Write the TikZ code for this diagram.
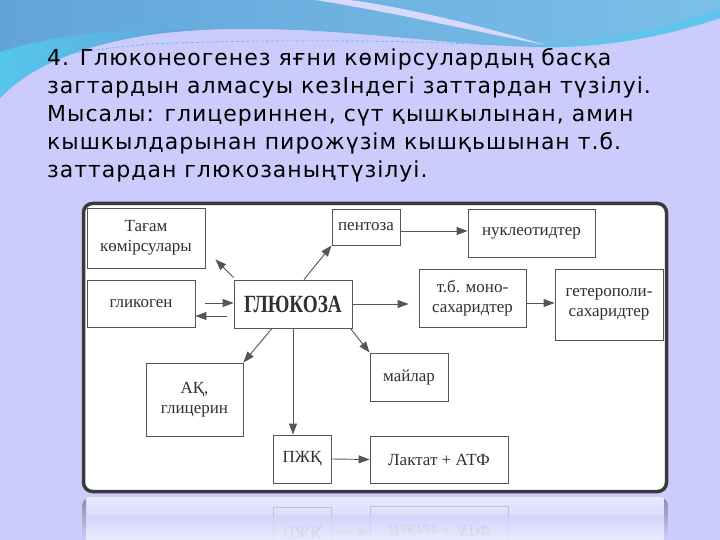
\documentclass[tikz,border=0pt]{standalone}
\usepackage{fontspec}
\setmainfont{Liberation Serif}
\newfontfamily\titlefont[LetterSpace=4.5]{DejaVu Sans}
\usetikzlibrary{arrows.meta,calc}
\definecolor{lav}{RGB}{204,204,252}
\definecolor{blueA}{RGB}{98,164,218}
\definecolor{blueB}{RGB}{122,192,232}
\definecolor{cyanA}{RGB}{86,198,236}
\definecolor{boxgray}{RGB}{85,85,85}
\definecolor{txtgray}{RGB}{48,48,48}
\definecolor{framegray}{RGB}{58,58,58}
\tikzset{
  box/.style={draw=boxgray, line width=0.9pt, fill=white, inner sep=0pt, align=center,
    font=\fontsize{17}{20.5}\selectfont, text=txtgray},
  arr/.style={draw=boxgray, line width=0.9pt, -{Triangle[length=11pt,width=8pt]}},
  titleline/.style={anchor=base west, inner sep=0pt, font=\titlefont\fontsize{22}{26}\selectfont, text=black},
  reflbox/.style={draw=boxgray!35, line width=0.8pt, minimum width=#1, minimum height=48pt, inner sep=0pt},
}
\begin{document}
\begin{tikzpicture}[x=1pt,y=-1pt]
\useasboundingbox (0,0) rectangle (720,540);
% background
\fill[lav] (0,0) rectangle (720,540);
% blue top wave
\shade[left color=blueA, right color=blueB]
  (0,0) -- (720,0) -- (720,18) .. controls (660,38) and (600,48) .. (540,47)
  .. controls (430,45) and (330,24) .. (200,30) .. controls (120,34) and (40,55) .. (0,98) -- cycle;
\shade[left color=cyanA, right color=blueA]
  (0,98) .. controls (40,55) and (120,34) .. (200,30) .. controls (120,26) and (40,38) .. (0,52) -- cycle;
\fill[cyanA!75!blueB]
  (540,47) .. controls (600,48) and (660,38) .. (720,18) -- (720,8) .. controls (660,30) and (600,42) .. (540,46) -- cycle;
% light swoosh
\fill[lav!75!white] (315,0) .. controls (380,10) and (460,28) .. (545,45) .. controls (470,22) and (390,5) .. (350,0) -- cycle;
\draw[cyanA!60!blueA, line width=0.6pt, dash pattern=on 3pt off 2pt]
  (0,75) .. controls (30,62) and (60,52) .. (150,44) .. controls (250,40) and (300,41) .. (360,41) .. controls (450,42) and (500,46) .. (560,47);
% title text
\node[titleline] (l1) at (47,65.5) {4. Глюконеогенез яғни көмірсулардың басқа};
\node[titleline] (l2) at (47,93.5) {загтардын алмасуы кезIндегі заттардан түзілуі.};
\node[titleline] (l3) at (47,121.5) {Мысалы: глицериннен, сүт қышкылынан, амин};
\node[titleline] (l4) at (47,149.5) {кышкылдарынан пирожүзім кышқьшынан т.б.};
\node[titleline] (l5) at (47,177.5) {заттардан глюкозаныңтүзілуі.};
% reflection
\begin{scope}
\clip[rounded corners=9pt] (82,497) rectangle (668,560);
\shade[top color=white!55!lav, bottom color=lav] (82,497) rectangle (668,540);
\node[reflbox=58pt] (rp) at (302,531) {};
\node[reflbox=138pt] (rl) at (439,530.5) {};
\node[text=txtgray!35, font=\fontsize{17}{20}\selectfont] (rpt) at (302,531) {\scalebox{1}[-1]{ПЖҚ}};
\node[text=txtgray!35, font=\fontsize{17}{20}\selectfont] (rlt) at (439,531) {\scalebox{1}[-1]{Лактат + АТФ}};
\draw[draw=boxgray!35, line width=0.8pt, -{Triangle[length=11pt,width=8pt]}] (rp.east |- 0,532) -- (rl.west |- 0,532);
\shade[top color=framegray!45!lav, bottom color=lav] (82,497) rectangle (86,540);
\shade[top color=framegray!45!lav, bottom color=lav] (664,497) rectangle (668,540);
\shade[top color=lav, bottom color=lav!0, opacity=0.6] (86,515) rectangle (664,540);
\end{scope}
% frame
\draw[framegray, fill=white, line width=3.5pt, rounded corners=9pt] (83.5,203.5) rectangle (666.5,491.5);
% boxes
\node[box, minimum width=118pt, minimum height=60pt] (tag) at (146,238) {Тағам\\көмірсулары};
\node[box, minimum width=108pt, minimum height=47pt] (gly) at (141,303.5) {гликоген};
\node[box, minimum width=118pt, minimum height=48pt, font=\bfseries\fontsize{24}{28}\selectfont] (glu) at (293,304) {\scalebox{0.8}[1.03]{ГЛЮКОЗА}};
\node[box, minimum width=68pt, minimum height=36pt] (pen) at (366,227) {пентоза};
\node[box, minimum width=127pt, minimum height=48pt] (nuk) at (531.5,233) {нуклеотидтер};
\node[box, minimum width=107pt, minimum height=58pt] (mono) at (472.5,298) {т.б. моно-\\сахаридтер};
\node[box, minimum width=108pt, minimum height=71pt] (het) at (609,304.5) {гетерополи-\\сахаридтер};
\node[box, minimum width=78pt, minimum height=48pt] (mai) at (409,377) {майлар};
\node[box, minimum width=97pt, minimum height=73pt] (ak) at (194.5,399.5) {АҚ,\\глицерин};
\node[box, minimum width=58pt, minimum height=48pt] (pzh) at (302,459) {ПЖҚ};
\node[box, minimum width=138pt, minimum height=47pt] (lak) at (439,459.5) {Лактат + АТФ};
% connectors
\coordinate (tagtip) at ($(tag.south east)+(10,-9)$);
\draw[arr] ([yshift=2pt]glu.north west) -- (tagtip);
\draw[arr, shorten <=10pt] ([yshift=0.5pt]gly.east) -- ([yshift=1pt]glu.west);
\draw[arr, shorten <=7pt] ([yshift=-12pt]glu.west) -- ([yshift=-12.5pt]gly.east);
\draw[arr] ([xshift=11pt]glu.north) -- (pen.south west);
\draw[arr] ([yshift=-4pt]pen.east) -- ([yshift=2pt]nuk.west);
\draw[arr, shorten >=10pt] (glu.east) -- (mono.west |- glu.east);
\draw[arr] ([yshift=-5pt]mono.east) -- ([yshift=1.5pt]het.west);
\draw[arr] ([xshift=-2pt]glu.south east) -- (mai.north west);
\draw[arr] ([xshift=-21pt]glu.south) -- (ak.north east);
\draw[arr] (glu.south) -- (glu.south |- pzh.north);
\draw[arr] (pzh.east) -- (lak.west);
\end{tikzpicture}
\end{document}
